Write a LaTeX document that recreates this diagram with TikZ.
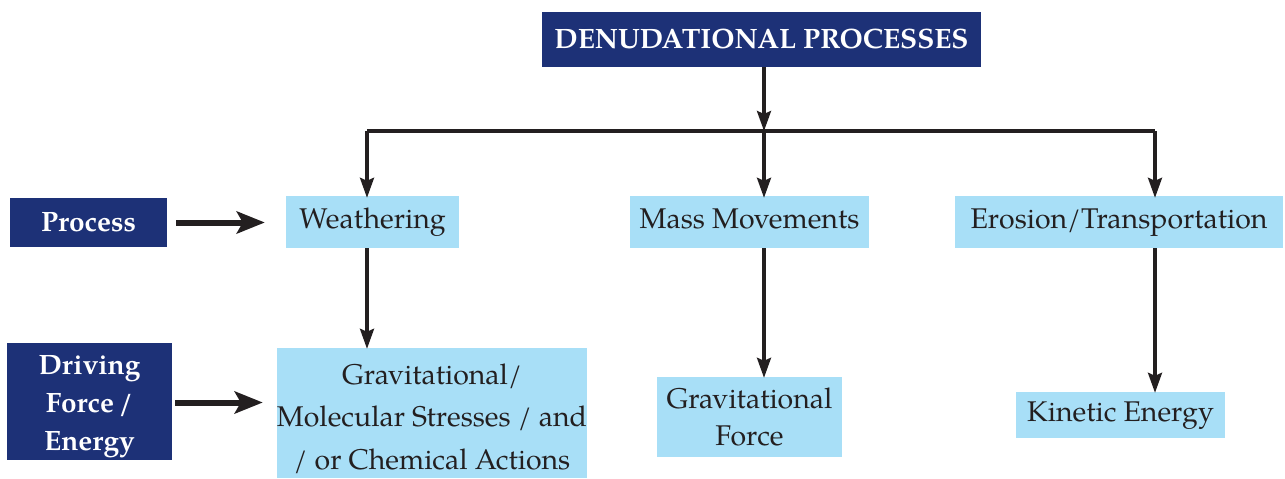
\documentclass[tikz,border=0pt]{standalone}
\usepackage{fontspec}
\setmainfont{texgyrepagella}[Extension=.otf, UprightFont=*-regular, BoldFont=*-bold, ItalicFont=*-italic, BoldItalicFont=*-bolditalic]
\usetikzlibrary{arrows.meta}
\definecolor{navy}{RGB}{29,49,119}
\definecolor{lblue}{RGB}{168,223,247}
\definecolor{ink}{RGB}{35,31,32}
\newcommand{\lowerby}[2]{\raisebox{-#1}[\height][\depth]{#2}}
\tikzset{
  darkbox/.style={fill=navy, text=white, inner sep=0pt, align=center, font=\bfseries\fontsize{28}{38}\selectfont},
  lightbox/.style={fill=lblue, text=ink, inner sep=0pt, align=center, font=\fontsize{28.5}{42.5}\selectfont},
  oneline/.style={text height=19pt, text depth=6.5pt},
  conn/.style={draw=ink, line width=3.2pt, -{Stealth[length=20pt,width=14pt,inset=3pt]}},
  line/.style={draw=ink, line width=3.2pt},
  bigarrow/.style={draw=ink, line width=6pt, -{Stealth[length=28pt,width=22pt,inset=6pt]}}
}
\begin{document}
\begin{tikzpicture}[x=1pt,y=-1pt]
\useasboundingbox (0,0) rectangle (1285,479);
\node[darkbox, minimum width=439pt, minimum height=55pt] (top) at (761.5,39.5) {DENUDATIONAL PROCESSES};
\node[darkbox, minimum width=157pt, minimum height=49pt] (proc) at (88.5,222.5) {Process};
\node[darkbox, minimum width=165pt, minimum height=117pt] (drive) at (89.5,401.5) {\lowerby{3pt}{\begin{tabular}{@{}c@{}}Driving\\Force\,/\\Energy\end{tabular}}};
\node[lightbox, oneline, minimum width=173pt, minimum height=52pt] (weath) at (372.5,222) {Weathering};
\node[lightbox, oneline, minimum width=239pt, minimum height=52pt] (mass) at (749.5,222) {Mass Movements};
\node[lightbox, oneline, minimum width=328pt, minimum height=52pt] (eros) at (1119,222) {Erosion/Transportation};
\node[lightbox, minimum width=308pt, minimum height=130pt] (grav1) at (432,413) {\lowerby{5pt}{\begin{tabular}{@{}c@{}}Gravitational/\\Molecular Stresses / and\\/ or Chemical Actions\end{tabular}}};
\node[lightbox, minimum width=185pt, minimum height=80pt, font=\fontsize{28.5}{37}\selectfont] (grav2) at (749.5,417) {Gravitational\\Force};
\node[lightbox, oneline, minimum width=209pt, minimum height=46pt] (kin) at (1120.5,415) {Kinetic Energy};
\coordinate (hl) at (367,131);
\coordinate (j) at (764,131);
\coordinate (hr) at (1155,131);
\draw[conn] (top.south -| j) -- (j);
\draw[line] (hl) -- (hr);
\draw[conn] (hl) -- ([yshift=-2pt]hl |- weath.north);
\draw[conn] (j) -- ([yshift=-2pt]j |- mass.north);
\draw[conn] (hr) -- ([yshift=-2pt]hr |- eros.north);
\draw[conn] (hl |- weath.south) -- ([yshift=-1pt]hl |- grav1.north);
\draw[conn] (j |- mass.south) -- ([yshift=-1pt]j |- grav2.north);
\draw[conn] (hr |- eros.south) -- ([yshift=-1pt]hr |- kin.north);
\draw[bigarrow, shorten <=9pt, shorten >=21pt] (proc.east) -- (proc.east -| weath.west);
\draw[bigarrow, shorten <=3pt, shorten >=14pt] ([yshift=-1pt]drive.east) -- ([yshift=-1pt]drive.east -| grav1.west);
\end{tikzpicture}
\end{document}
